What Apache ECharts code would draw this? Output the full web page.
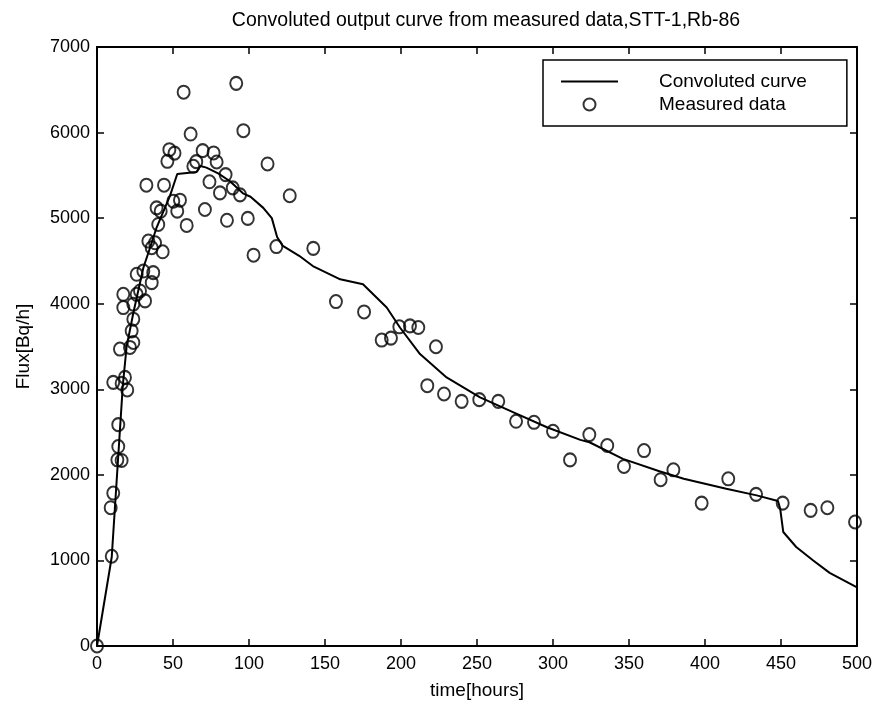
<!DOCTYPE html>
<html>
<head>
<meta charset="utf-8">
<script src="https://cdn.jsdelivr.net/npm/echarts@6/dist/echarts.min.js"></script>
<style>
  html, body { margin: 0; padding: 0; background: #fff; }
  #chart { width: 879px; height: 710px; }
</style>
</head>
<body>
<div id="chart"></div>
<script>
// ---- Data ----
const chartTitle = 'Convoluted output curve from measured data,STT-1,Rb-86';
const xAxisName = 'time[hours]';
const yAxisName = 'Flux[Bq/h]';
const seriesNames = ['Convoluted curve', 'Measured data'];

// Convoluted curve: [time (h), flux (Bq/h)]
const curveTime = [0, 9.7, 17, 19.5, 24, 30.5, 35, 39.2, 48, 52.8, 65.5, 68, 72, 80, 87.5, 96, 101, 109.4, 115, 118.5, 122, 133, 142, 160, 175, 190.6, 199.3, 212.5, 230, 252, 274, 296, 318, 324, 346, 370, 386, 414, 434, 448, 449.5, 451.5, 460, 471, 482, 500];
const curveFlux = [0, 1040, 3050, 3500, 3900, 4420, 4660, 4890, 5260, 5516, 5540, 5610, 5590, 5520, 5431, 5290, 5250, 5120, 5000, 4780, 4680, 4560, 4440, 4285, 4227, 3955, 3722, 3411, 3139, 2906, 2731, 2556, 2409, 2381, 2187, 2043, 1954, 1838, 1760, 1694, 1600, 1332, 1157, 1002, 854, 684];

// Measured data: [time (h), flux (Bq/h)]
const measTime = [0, 9.7, 9, 10.7, 13.4, 16.2, 14, 14, 10.7, 16.2, 18.4, 19.9, 15.1, 21.7, 23.9, 22.8, 23.9, 17.3, 23.9, 17.3, 26.1, 31.6, 28.3, 26.1, 30.5, 37, 36, 33.8, 38.2, 36, 43.2, 40.3, 39.2, 41.9, 32.5, 44.1, 50.2, 54.6, 52.8, 46.3, 47.6, 51, 57, 61.6, 59, 63.4, 65.3, 69.5, 71, 74, 76.7, 78.7, 80.9, 84.6, 85.5, 89.3, 91.6, 94.1, 96.3, 99.2, 103, 112.2, 118, 126.8, 142.3, 157.2, 175.7, 187.3, 193.4, 198.9, 205.9, 211.4, 217.3, 223, 228.3, 239.9, 251.5, 264, 275.7, 287.5, 300, 311.2, 323.9, 335.7, 346.7, 359.9, 370.8, 379.2, 397.8, 415.3, 433.6, 451.1, 469.5, 480.5, 498.7];
const measFlux = [0, 1049, 1616, 1787, 2176, 2168, 2331, 2587, 3081, 3069, 3139, 2992, 3470, 3489, 3547, 3683, 3819, 3955, 3994, 4110, 4110, 4033, 4149, 4344, 4382, 4363, 4246, 4732, 4712, 4654, 4607, 4926, 5120, 5082, 5385, 5385, 5198, 5210, 5082, 5664, 5800, 5760, 6472, 5983, 4915, 5606, 5660, 5789, 5101, 5425, 5762, 5656, 5295, 5509, 4975, 5354, 6575, 5272, 6022, 4997, 4567, 5633, 4668, 5262, 4647, 4025, 3904, 3575, 3598, 3730, 3741, 3722, 3042, 3497, 2945, 2859, 2879, 2859, 2626, 2614, 2509, 2175, 2471, 2343, 2098, 2284, 1943, 2059, 1670, 1954, 1772, 1670, 1585, 1616, 1449];

// Axis ranges / ticks
const xMin = 0, xMax = 500, xStep = 50;
const yMin = 0, yMax = 7000, yStep = 1000;

// ---- Build chart ----
const curveData = curveTime.map((t, i) => [t, curveFlux[i]]);
const measData = measTime.map((t, i) => [t, measFlux[i]]);

const FONT = '"Liberation Sans", Arial, Helvetica, sans-serif';
const black = '#000';

function makeX(pos, showLabel) {
  return {
    type: 'value', position: pos, min: xMin, max: xMax, interval: xStep,
    name: showLabel ? xAxisName : '',
    nameLocation: 'middle', nameGap: 35,
    nameTextStyle: { color: black, fontFamily: FONT, fontSize: 19 },
    axisLine: { show: true, onZero: false, lineStyle: { color: black, width: 2 } },
    axisTick: { show: true, inside: true, length: 7, lineStyle: { color: black, width: 1.5 } },
    axisLabel: { show: showLabel, color: black, fontFamily: FONT, fontSize: 18, margin: 9,
                 formatter: v => String(v) },
    splitLine: { show: false }
  };
}
function makeY(pos, showLabel) {
  return {
    type: 'value', position: pos, min: yMin, max: yMax, interval: yStep,
    name: showLabel ? yAxisName : '',
    nameLocation: 'middle', nameGap: 64, nameRotate: 90,
    nameTextStyle: { color: black, fontFamily: FONT, fontSize: 19 },
    axisLine: { show: true, onZero: false, lineStyle: { color: black, width: 2 } },
    axisTick: { show: true, inside: true, length: 7, lineStyle: { color: black, width: 1.5 } },
    axisLabel: { show: showLabel, color: black, fontFamily: FONT, fontSize: 18, margin: 7,
                 formatter: v => String(v) },
    splitLine: { show: false }
  };
}

const chart = echarts.init(document.getElementById('chart'), null, { renderer: 'canvas' });
chart.setOption({
  animation: false,
  backgroundColor: '#fff',
  title: {
    text: chartTitle,
    left: 481, top: 6, textAlign: 'center',
    textStyle: { color: black, fontFamily: FONT, fontSize: 19.5, fontWeight: 'normal' }
  },
  grid: { left: 97, right: 22, top: 47, bottom: 64, containLabel: false },
  legend: {
    orient: 'vertical', left: 543, top: 60,
    backgroundColor: '#fff',
    borderColor: black, borderWidth: 1.5,
    padding: [12, 40, 12, 17],
    itemWidth: 57, itemHeight: 12, itemGap: 4,
    textStyle: { color: black, fontFamily: FONT, fontSize: 19, padding: [0, 0, 0, 36] },
    data: [
      { name: seriesNames[0], itemStyle: { color: 'rgba(0,0,0,0)', borderWidth: 0 } },
      { name: seriesNames[1], icon: 'circle', itemStyle: { color: 'rgba(0,0,0,0)', borderColor: black, borderWidth: 2 } }
    ]
  },
  xAxis: [makeX('bottom', true), makeX('top', false)],
  yAxis: [makeY('left', true), makeY('right', false)],
  series: [
    {
      name: seriesNames[0], type: 'line', data: curveData,
      xAxisIndex: 0, yAxisIndex: 0,
      symbol: 'none', smooth: false,
      lineStyle: { color: black, width: 2 },
      itemStyle: { color: black },
      z: 3
    },
    {
      name: seriesNames[1], type: 'scatter', data: measData,
      xAxisIndex: 0, yAxisIndex: 0,
      symbol: 'circle', symbolSize: [12, 13],
      itemStyle: { color: 'rgba(0,0,0,0)', borderColor: black, borderWidth: 2 },
      z: 4
    }
  ]
});
</script>
</body>
</html>
